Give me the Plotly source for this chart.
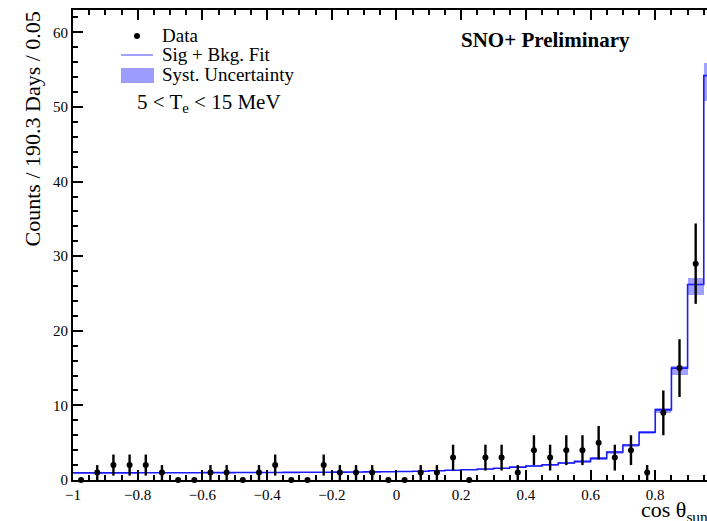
import numpy as np
import plotly.graph_objects as go

# cos(theta_sun) binning: 40 bins of width 0.05 from -1 to 1
bin_edges = np.round(np.linspace(-1.0, 1.0, 41), 3)
bin_centers = (bin_edges[:-1] + bin_edges[1:]) / 2

# Observed counts per bin
data_counts = [
    0, 1, 2, 2, 2, 1, 0, 0, 1, 1,
    0, 1, 2, 0, 0, 2, 1, 1, 1, 0,
    0, 1, 1, 3, 0, 3, 3, 1, 4, 3,
    4, 4, 5, 3, 4, 1, 9, 15, 29, 55,
]

# Signal + background fit prediction per bin
fit_values = [
    0.95, 0.95, 0.96, 0.96, 0.97, 0.97, 0.98, 0.98, 0.99, 0.99,
    1.00, 1.00, 1.01, 1.02, 1.03, 1.04, 1.05, 1.07, 1.09, 1.11,
    1.14, 1.18, 1.24, 1.30, 1.38, 1.47, 1.58, 1.72, 1.88, 2.05,
    2.28, 2.50, 2.90, 3.75, 4.70, 6.40, 9.40, 15.0, 26.2, 54.2,
]

# Systematic uncertainty band (lower / upper edge per bin)
syst_low = [
    0.88, 0.88, 0.89, 0.89, 0.90, 0.90, 0.91, 0.91, 0.92, 0.92,
    0.93, 0.93, 0.94, 0.95, 0.96, 0.97, 0.98, 1.00, 1.01, 1.03,
    1.06, 1.10, 1.15, 1.21, 1.28, 1.37, 1.47, 1.60, 1.75, 1.91,
    2.12, 2.33, 2.72, 3.55, 4.48, 6.15, 9.00, 14.1, 24.8, 50.8,
]
syst_high = [
    1.01, 1.01, 1.02, 1.02, 1.03, 1.03, 1.04, 1.04, 1.05, 1.05,
    1.06, 1.06, 1.07, 1.08, 1.09, 1.10, 1.11, 1.13, 1.15, 1.17,
    1.20, 1.24, 1.30, 1.36, 1.44, 1.53, 1.65, 1.79, 1.96, 2.14,
    2.38, 2.61, 3.02, 3.90, 4.88, 6.62, 9.70, 15.3, 27.1, 55.9,
]

x_ticks = [-1, -0.8, -0.6, -0.4, -0.2, 0, 0.2, 0.4, 0.6, 0.8]
x_tick_text = ["\u22121", "\u22120.8", "\u22120.6", "\u22120.4", "\u22120.2",
               "0", "0.2", "0.4", "0.6", "0.8"]
y_ticks = [0, 10, 20, 30, 40, 50, 60]

legend_labels = ["Data", "Sig + Bkg. Fit", "Syst. Uncertainty"]

serif = "Liberation Serif, Times New Roman, serif"
band_color = "rgba(110,110,255,0.65)"
fit_color = "#1a1aff"

counts = np.array(data_counts, dtype=float)
fit = np.array(fit_values)
lo = np.array(syst_low)
hi = np.array(syst_high)

fig = go.Figure()

# Uncertainty band as one filled box per bin
fig.add_trace(go.Bar(
    x=bin_centers, y=hi - lo, base=lo, width=0.05,
    marker=dict(color=band_color, line=dict(width=0)),
    name=legend_labels[2], hoverinfo="skip",
))

# Fit drawn as a step histogram
fig.add_trace(go.Scatter(
    x=bin_edges, y=np.append(fit, fit[-1]), mode="lines",
    line=dict(color=fit_color, width=1.6, shape="hv"),
    name=legend_labels[1],
))

# Data points with sqrt(N) error bars
fig.add_trace(go.Scatter(
    x=bin_centers, y=counts, mode="markers",
    marker=dict(color="black", size=6),
    error_y=dict(type="data", array=np.sqrt(counts), color="black",
                 thickness=2.4, width=0),
    name=legend_labels[0], cliponaxis=False,
))

# Compact ROOT-style legend box drawn in paper coordinates
legend_shapes = [
    dict(type="circle", xref="paper", yref="paper",
         x0=0.0962, x1=0.1057, y0=0.9383, y1=0.9511,
         fillcolor="black", line=dict(width=0)),
    dict(type="line", xref="paper", yref="paper",
         x0=0.0757, x1=0.1262, y0=0.9043, y1=0.9043,
         line=dict(color="#8080ff", width=1.5)),
    dict(type="rect", xref="paper", yref="paper",
         x0=0.0757, x1=0.1278, y0=0.8447, y1=0.8766,
         fillcolor="#9c9cff", line=dict(width=0)),
]
legend_text = [
    dict(text=label, xref="paper", yref="paper", x=0.1372, y=yy,
         xanchor="left", yanchor="middle", showarrow=False,
         font=dict(family=serif, size=19))
    for label, yy in zip(legend_labels, [0.9447, 0.9043, 0.8638])
]

fig.update_layout(
    width=707, height=521,
    margin=dict(l=73, r=0, t=10, b=41),
    paper_bgcolor="white", plot_bgcolor="white",
    font=dict(family=serif, color="black", size=15),
    bargap=0,
    showlegend=False,
    shapes=legend_shapes,
    xaxis=dict(
        range=[-1, 0.96], showgrid=False, zeroline=False,
        showline=True, linecolor="black", linewidth=2, mirror="ticks",
        ticks="inside", ticklen=10, tickwidth=1.5, tickcolor="black",
        tickvals=x_ticks, ticktext=x_tick_text,
        tickfont=dict(family=serif, size=15),
        minor=dict(dtick=0.05, ticks="inside", ticklen=5, tickwidth=1.5,
                   tickcolor="black"),
    ),
    yaxis=dict(
        range=[0, 63], showgrid=False, zeroline=False,
        showline=True, linecolor="black", linewidth=2, mirror=False,
        ticks="inside", ticklen=10, tickwidth=1.5, tickcolor="black",
        tickvals=y_ticks, tickfont=dict(family=serif, size=15),
        minor=dict(dtick=2, ticks="inside", ticklen=5, tickwidth=1.5,
                   tickcolor="black"),
    ),
    annotations=legend_text + [
        dict(text="Counts / 190.3 Days / 0.05", textangle=-90,
             xref="paper", yref="paper", x=-0.0647, y=0.748,
             xanchor="center", yanchor="middle", showarrow=False,
             font=dict(family=serif, size=22)),
        dict(text="cos \u03b8<sub>sun</sub>",
             xref="paper", yref="paper", x=0.893, y=-0.066,
             xanchor="left", yanchor="middle", showarrow=False,
             font=dict(family=serif, size=22)),
        dict(text="<b>SNO+ Preliminary</b>",
             xref="paper", yref="paper", x=0.7445, y=0.936,
             xanchor="center", yanchor="middle", showarrow=False,
             font=dict(family=serif, size=21)),
        dict(text="5 &lt; T<sub>e</sub> &lt; 15 MeV",
             xref="paper", yref="paper", x=0.0978, y=0.802,
             xanchor="left", yanchor="middle", showarrow=False,
             font=dict(family=serif, size=21)),
    ],
)

fig.write_html("out.html")
